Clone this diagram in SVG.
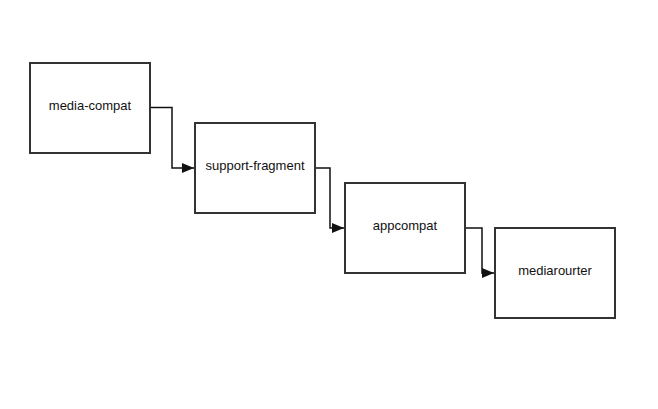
<svg xmlns="http://www.w3.org/2000/svg" width="658" height="409" viewBox="0 0 658 409">
<style>
.box{fill:#fff;stroke:#333;stroke-width:2}
.lbl{font-family:"Liberation Sans",Arial,sans-serif;font-size:13px;fill:#111;text-anchor:middle}
.edge{fill:none;stroke:#111;stroke-width:1.5}
</style>
<defs>
<marker id="arr" viewBox="0 0 12 10" refX="12" refY="5" markerWidth="12" markerHeight="10" markerUnits="userSpaceOnUse" orient="auto">
<path d="M0,0 L12,5 L0,10 z" fill="#111"/>
</marker>
</defs>
<rect width="658" height="409" fill="#fff"/>
<g id="edges">
<path class="edge" d="M150,107.5 H172 V168 H194" marker-end="url(#arr)"/>
<path class="edge" d="M315,168 H330 V228 H344" marker-end="url(#arr)"/>
<path class="edge" d="M465,228 H482 V273 H494" marker-end="url(#arr)"/>
</g>
<g id="media-compat"><rect class="box" x="30" y="63" width="120" height="90"/><text class="lbl" x="90" y="110">media-compat</text></g>
<g id="support-fragment"><rect class="box" x="195" y="123" width="120" height="90"/><text class="lbl" x="255" y="170">support-fragment</text></g>
<g id="appcompat"><rect class="box" x="345" y="183" width="120" height="90"/><text class="lbl" x="405" y="230">appcompat</text></g>
<g id="mediarourter"><rect class="box" x="495" y="228" width="120" height="90"/><text class="lbl" x="555" y="275">mediarourter</text></g>
</svg>
